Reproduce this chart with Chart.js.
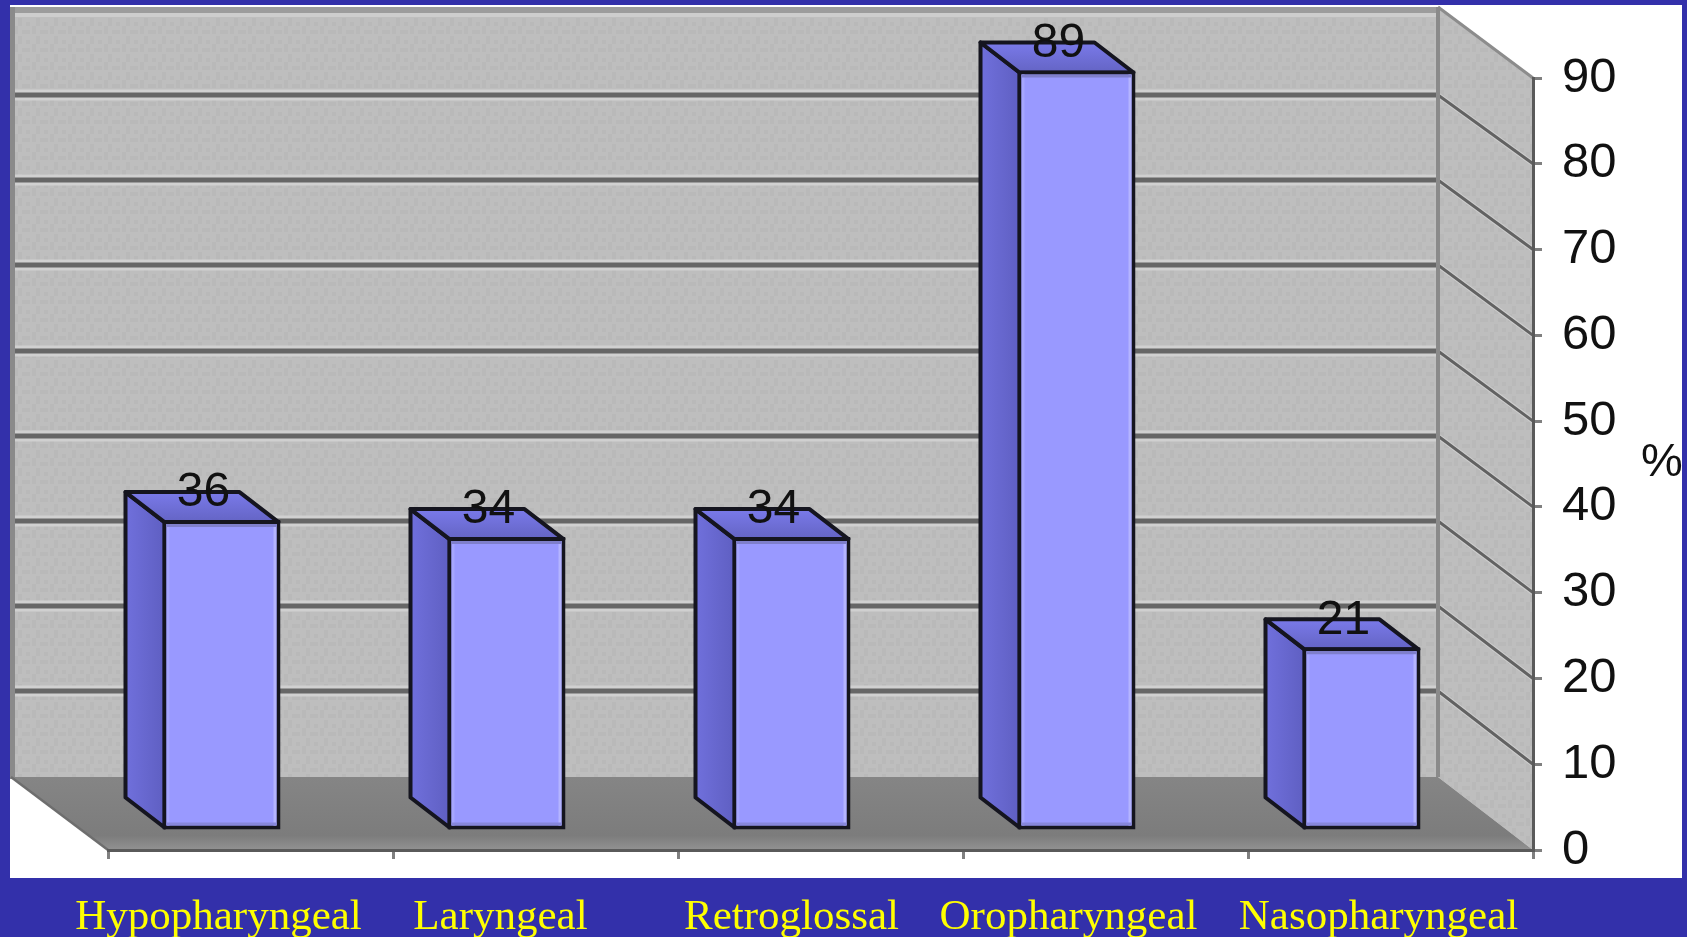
<!DOCTYPE html>
<html>
<head>
<meta charset="utf-8">
<title>Obstruction sites</title>
<style>
  html, body { margin: 0; padding: 0; background: #3330aa; overflow: hidden; }
  canvas { display: block; }
</style>
<script src="https://cdn.jsdelivr.net/npm/chart.js@4/dist/chart.umd.min.js"></script>
</head>
<body>
<canvas id="grafico" width="1687" height="937"></canvas>
<script>
const categories = ['Hypopharyngeal', 'Laryngeal', 'Retroglossal', 'Oropharyngeal', 'Nasopharyngeal'];
const percentages = [36, 34, 34, 89, 21];
const yTicks = [0, 10, 20, 30, 40, 50, 60, 70, 80, 90];

// slide captions sit loosely under the axis, not centred on each tick
const captionShift = [-32, -35, -29, -37, -12];

// depth of the box the chart lives in, and of each column
const wallDepth = { x: 95, y: 73 };
const barDepth = { x: 39, y: 30 };
const barOffset = { x: -29, y: -22.5 }; // columns stand part way back on the floor

function wallPattern(ctx) {
    const tile = document.createElement('canvas');
    tile.width = 18;
    tile.height = 18;
    const t = tile.getContext('2d');
    t.fillStyle = '#bebebe';
    t.fillRect(0, 0, 18, 18);
    t.fillStyle = '#b9b9b9';
    t.fillRect(0, 0, 4, 8);
    t.fillRect(8, 4, 4, 4);
    t.fillRect(4, 12, 8, 4);
    t.fillRect(14, 8, 4, 8);
    return ctx.createPattern(tile, 'repeat');
}

function poly(ctx, pts, fill, stroke, width) {
    ctx.beginPath();
    pts.forEach((p, i) => i ? ctx.lineTo(p[0], p[1]) : ctx.moveTo(p[0], p[1]));
    ctx.closePath();
    if (fill) {
        ctx.fillStyle = fill;
        ctx.fill();
    }
    if (stroke) {
        ctx.strokeStyle = stroke;
        ctx.lineWidth = width;
        ctx.lineJoin = 'round';
        ctx.stroke();
    }
}

function line(ctx, x1, y1, x2, y2, color, width) {
    ctx.beginPath();
    ctx.moveTo(x1, y1);
    ctx.lineTo(x2, y2);
    ctx.strokeStyle = color;
    ctx.lineWidth = width;
    ctx.stroke();
}

// white slide panel, back wall, side wall and floor
const boxPlugin = {
    id: 'box',
    beforeDraw(chart) {
        const { ctx, chartArea: a, scales } = chart;
        const y = scales.y;
        const backL = 15;
        const backR = a.right - wallDepth.x;
        const floorBack = a.bottom - wallDepth.y;
        const top = a.top - wallDepth.y;
        const pat = wallPattern(ctx);

        ctx.save();
        ctx.fillStyle = '#ffffff';
        ctx.fillRect(10, 5, 1672, 873);

        // back wall
        ctx.fillStyle = pat;
        ctx.fillRect(backL, top + 2, backR - backL, floorBack - top);
        ctx.fillStyle = '#9c9c9c';
        ctx.fillRect(backL, top + 2, backR - backL, 6);
        ctx.fillStyle = '#cdcdcd';
        ctx.fillRect(backL, top + 8, backR - backL, 4);
        ctx.fillStyle = '#8a8a8a';
        ctx.fillRect(10, top + 2, 5, floorBack - top);

        // side wall
        poly(ctx, [[backR, top + 2], [a.right, a.top], [a.right, a.bottom], [backR, floorBack]], pat);
        line(ctx, backR, top + 2, a.right, a.top, '#8c8c8c', 3);

        // floor
        const floorFill = ctx.createLinearGradient(0, floorBack, 0, a.bottom);
        floorFill.addColorStop(0, '#858585');
        floorFill.addColorStop(0.8, '#7c7c7c');
        floorFill.addColorStop(1, '#929292');
        poly(ctx, [[backL - 4, floorBack], [backR, floorBack], [a.right, a.bottom], [a.left, a.bottom]], floorFill);
        line(ctx, backL - 4, floorBack, a.left, a.bottom, '#6e6e6e', 2.5);

        // gridlines run along the back wall and down the side wall to each tick
        yTicks.slice(1, -1).forEach((v) => {
            const py = y.getPixelForValue(v);
            const wy = Math.round(floorBack - 1 - (a.bottom - py) * 0.992);
            line(ctx, backL, wy, backR, wy, '#d0d0d0', 11);
            line(ctx, backL, wy, backR, wy, '#666666', 5);
            line(ctx, backR, wy, a.right, py, '#d0d0d0', 5);
            line(ctx, backR, wy, a.right, py, '#626262', 3);
        });
        line(ctx, backR, top + 2, backR, floorBack, '#8a8a8a', 4);
        ctx.restore();
    }
};

// front faces come from the bar elements, side and top faces are added from the same geometry
const columnPlugin = {
    id: 'columns',
    beforeDatasetDraw(chart, args) {
        const { ctx } = chart;
        ctx.save();
        ctx.translate(barOffset.x, barOffset.y);
        args.meta.data.forEach((bar) => {
            const { x, y, base, width } = bar.getProps(['x', 'y', 'base', 'width'], true);
            const l = x - width / 2;
            const r = x + width / 2;
            const dx = barDepth.x;
            const dy = barDepth.y;
            const side = ctx.createLinearGradient(l - dx, 0, l, 0);
            side.addColorStop(0, '#7070dc');
            side.addColorStop(1, '#5f5fc2');
            poly(ctx, [[l, y], [l - dx, y - dy], [l - dx, base - dy], [l, base]], side, '#15151f', 4);
            const lid = ctx.createLinearGradient(0, y - dy, 0, y);
            lid.addColorStop(0, '#7a7aea');
            lid.addColorStop(1, '#6464c4');
            poly(ctx, [[l, y], [l - dx, y - dy], [r - dx, y - dy], [r, y]], lid, '#15151f', 4);
        });
    },
    afterDatasetDraw(chart, args) {
        const { ctx } = chart;
        args.meta.data.forEach((bar, i) => {
            const { x, y, base, width } = bar.getProps(['x', 'y', 'base', 'width'], true);
            // small bevel just inside the front face border
            const l = x - width / 2 + 2;
            const r = x + width / 2 - 2;
            line(ctx, r - 1.5, y + 2, r - 1.5, base - 2, '#b4b4ff', 3);
            line(ctx, l + 1.5, y + 2, l + 1.5, base - 2, '#a6a6ff', 3);
            line(ctx, l, y + 3.5, r, y + 3.5, '#7f7fcc', 3);
            line(ctx, l, base - 3.5, r, base - 3.5, '#8787dc', 3);

            ctx.font = '48px "Liberation Sans"';
            ctx.fillStyle = '#111111';
            ctx.textAlign = 'center';
            ctx.textBaseline = 'middle';
            ctx.fillText(String(percentages[i]), x - 18, y - 29);
        });
        ctx.restore();
    }
};

// captions and the unit sign are placed by hand, like text boxes on a slide
const captionPlugin = {
    id: 'captions',
    afterDraw(chart) {
        const { ctx, scales } = chart;
        ctx.save();
        ctx.font = '43px "Liberation Serif"';
        ctx.fillStyle = '#ffff00';
        ctx.textAlign = 'center';
        ctx.textBaseline = 'alphabetic';
        categories.forEach((name, i) => {
            ctx.fillText(name, scales.x.getPixelForValue(i) + captionShift[i], 929);
        });
        ctx.font = '47px "Liberation Sans"';
        ctx.fillStyle = '#111111';
        ctx.textBaseline = 'middle';
        ctx.fillText('%', 1662, 463);
        ctx.restore();
    }
};

new Chart(document.getElementById('grafico').getContext('2d'), {
    type: 'bar',
    data: {
        labels: categories,
        datasets: [{
            data: percentages,
            yAxisID: 'yBar',
            backgroundColor: '#9999ff',
            borderColor: '#15151f',
            borderWidth: 4,
            borderSkipped: false,
            inflateAmount: 2,
            categoryPercentage: 1,
            barPercentage: 0.4,
            clip: false
        }]
    },
    options: {
        responsive: false,
        animation: false,
        layout: { padding: { left: 108, top: 78, right: 0, bottom: 0 } },
        plugins: {
            legend: { display: false },
            tooltip: { enabled: false }
        },
        scales: {
            x: {
                grid: { drawOnChartArea: false, color: '#808080', lineWidth: 3, tickLength: 9 },
                border: { color: '#5a5a5a', width: 3 },
                ticks: { display: false },
                afterFit(scale) { scale.height = 87; }
            },
            y: {
                position: 'right',
                min: 0,
                max: 90,
                afterBuildTicks(scale) { scale.ticks = yTicks.map((v) => ({ value: v })); },
                grid: { drawOnChartArea: false, color: '#808080', lineWidth: 3, tickLength: 9 },
                border: { color: '#5a5a5a', width: 3 },
                ticks: {
                    font: { family: '"Liberation Sans"', size: 49 },
                    color: '#111111',
                    crossAlign: 'near',
                    padding: 20
                },
                afterFit(scale) { scale.width = 154; }
            },
            // columns sit further back than the axis, so their scale is slightly shorter
            yBar: {
                display: false,
                min: 0,
                max: 91
            }
        }
    },
    plugins: [boxPlugin, columnPlugin, captionPlugin]
});
</script>
</body>
</html>
